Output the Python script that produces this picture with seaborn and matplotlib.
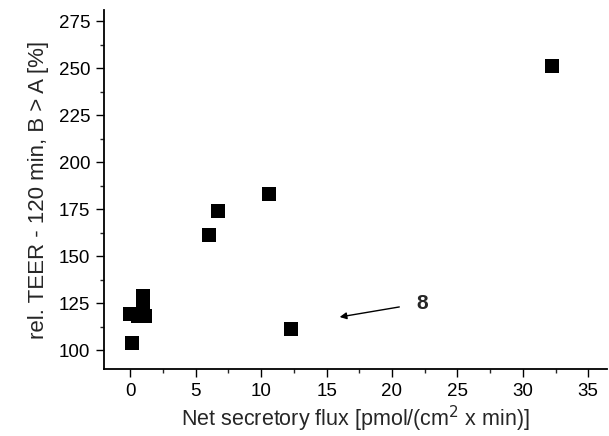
import matplotlib
matplotlib.use("Agg")
import matplotlib.pyplot as plt
from matplotlib.ticker import MultipleLocator
import seaborn as sns
import pandas as pd

sns.set_theme(style="ticks")
plt.rcParams['font.family'] = ['Liberation Sans', 'DejaVu Sans']

# Data
flux = [32.2, 10.6, 6.7, 6.0, 12.3, 0.1, 0.0, 1.0, 0.95, 1.1, 0.6]
teer = [251, 183, 174, 161, 111, 104, 119, 129, 124, 118, 118]

df = pd.DataFrame({"flux": flux, "teer": teer})

fig = plt.figure(figsize=(6.09, 4.36), dpi=100)
ax = fig.add_axes([0.171, 0.154, 0.825, 0.823])

sns.scatterplot(data=df, x="flux", y="teer", marker="s", s=90,
                color="black", edgecolor="black", linewidth=0, ax=ax)

ax.set_xlim(-2, 36.4)
ax.set_ylim(90, 281)
ax.xaxis.set_major_locator(MultipleLocator(5))
ax.xaxis.set_minor_locator(MultipleLocator(2.5))
ax.yaxis.set_major_locator(MultipleLocator(25))
ax.yaxis.set_minor_locator(MultipleLocator(12.5))
ax.set_yticks(range(100, 276, 25))

ax.tick_params(which="major", direction="out", length=6, width=1,
               labelsize=13.5, colors="black", pad=4)
ax.tick_params(which="minor", direction="out", length=3, width=1)

for side in ["top", "right"]:
    ax.spines[side].set_visible(False)
for side in ["left", "bottom"]:
    ax.spines[side].set_color("black")
    ax.spines[side].set_linewidth(1.3)

ax.set_xlabel("Net secretory flux [pmol/(cm$^2$ x min)]", fontsize=15.5, labelpad=3)
ax.set_ylabel("rel. TEER - 120 min, B > A [%]", fontsize=16, labelpad=7)

ax.annotate("8", xy=(16.0, 117.6), xytext=(22.3, 125),
            fontsize=15, fontweight="bold", va="center", ha="center",
            arrowprops=dict(arrowstyle="-|>", color="black", lw=1,
                            shrinkA=10, shrinkB=0, mutation_scale=10))

fig.savefig("out.png", dpi=100)
